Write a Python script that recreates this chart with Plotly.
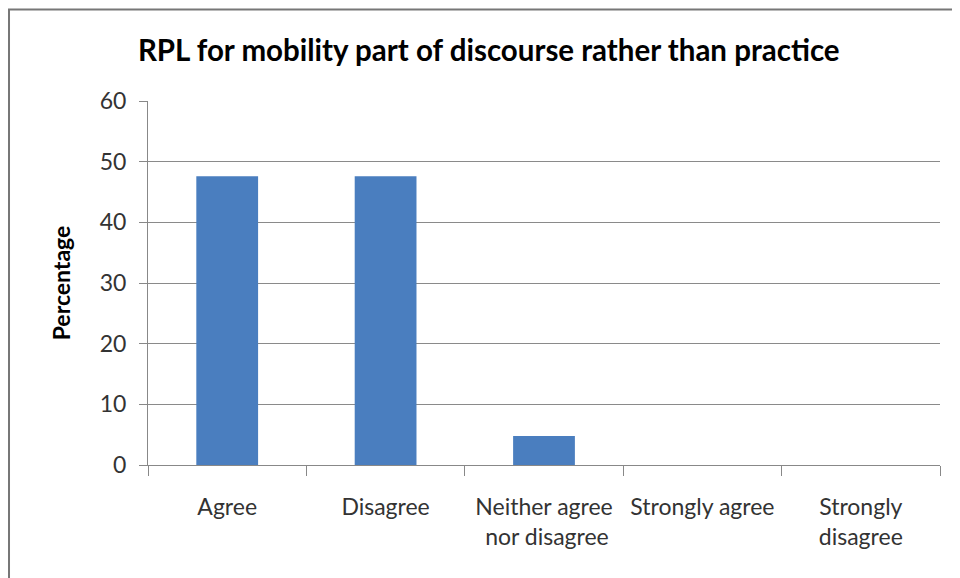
import plotly.graph_objects as go

categories = ["Agree", "Disagree", "Neither agree<br> nor disagree", "Strongly agree", "Strongly<br>disagree"]
percentages = [47.6, 47.6, 4.8, 0, 0]
y_ticks = [0, 10, 20, 30, 40, 50, 60]

FONT = "Lato"

fig = go.Figure()
fig.add_trace(go.Bar(
    x=categories, y=percentages,
    marker=dict(color="#4a7ebf", line=dict(color="#3b6aa8", width=0)),
    width=0.39,
))

fig.update_layout(
    width=952, height=570,
    margin=dict(l=140, r=20, t=93, b=113),
    paper_bgcolor="white", plot_bgcolor="white",
    showlegend=False,
    title=dict(text="<b>RPL for mobility part of discourse rather than practice</b>",
               x=0.505, xanchor="center", y=0.925, yanchor="middle",
               font=dict(family=FONT, size=29.5, color="black")),
    font=dict(family=FONT, size=23, color="#333333"),
)
fig.update_xaxes(
    showline=True, linecolor="#888888", linewidth=1,
    ticks="outside", tickson="boundaries", ticklen=10, tickcolor="#888888",
    tickfont=dict(size=23, color="#333333"),
    ticklabelstandoff=21,
)
fig.update_yaxes(
    range=[0, 60], tickvals=y_ticks,
    showline=True, linecolor="#888888", linewidth=1,
    ticks="outside", ticklen=8, tickcolor="#888888",
    showgrid=True, gridcolor="#8a8a8a", gridwidth=1,
    zeroline=False,
    tickfont=dict(size=23, color="#333333"),
    ticklabelstandoff=8,
    title=dict(text="<b>Percentage</b>", font=dict(size=23, color="black"), standoff=22),
)

# chart border
fig.add_shape(type="rect", xref="paper", yref="paper",
              x0=-0.1755, x1=1.0202, y0=-0.34, y1=1.2514,
              line=dict(color="#777777", width=2), fillcolor="rgba(0,0,0,0)", layer="below")

fig.write_html("out.html")
